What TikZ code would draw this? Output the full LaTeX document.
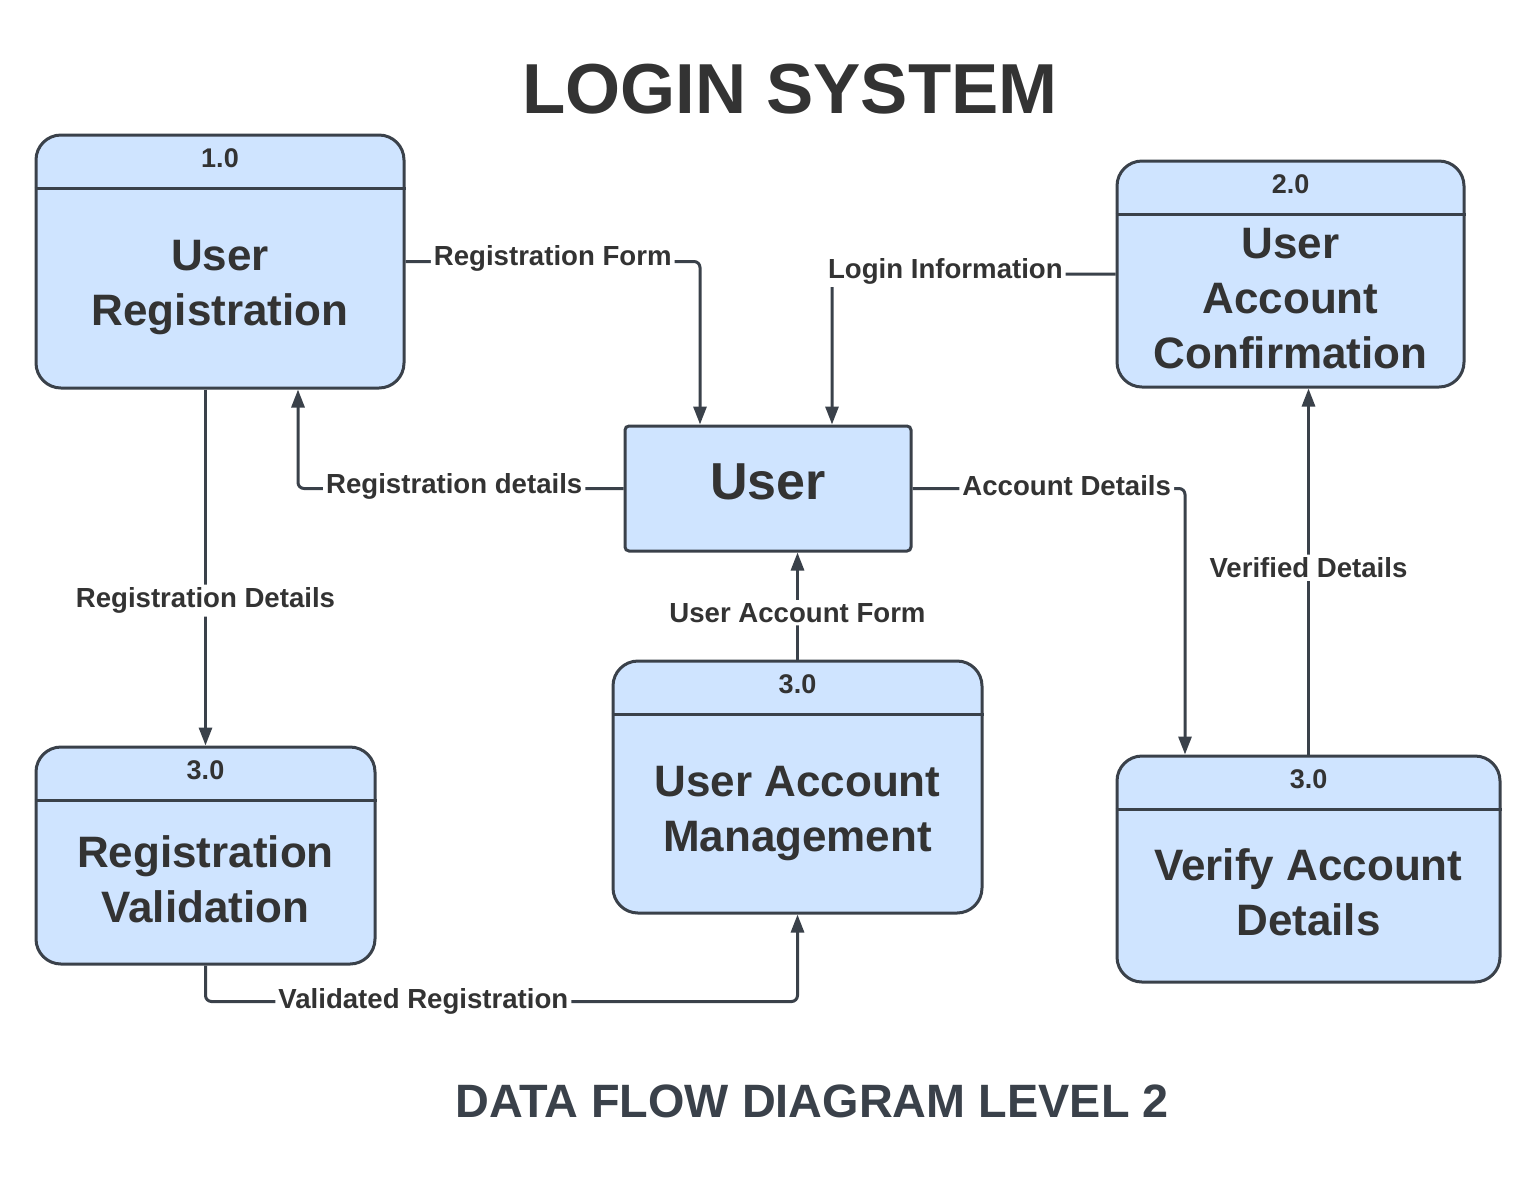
\documentclass[tikz,border=0pt]{standalone}
\usepackage{fontspec}
\setmainfont{Liberation Sans}
\usetikzlibrary{arrows.meta}
\definecolor{boxfill}{HTML}{CFE4FF}
\definecolor{edge}{HTML}{3A414A}
\definecolor{ink}{HTML}{333333}
\begin{document}
\begin{tikzpicture}[x=0.5pt,y=-0.5pt,
  proc/.style={draw=edge, line width=1.5pt, fill=boxfill, rounded corners=12.5pt, inner sep=0pt},
  hdr/.style={font=\bfseries\fontsize{13.5}{16}\selectfont, text=ink, inner sep=0pt},
  maintxt/.style={font=\bfseries\fontsize{22}{27.5}\selectfont, text=ink, align=center, inner sep=0pt},
  flow/.style={draw=edge, line width=1.5pt, -{Triangle[width=6.5pt,length=9pt]}, rounded corners=3pt},
  lbl/.style={fill=white, font=\bfseries\fontsize{13.8}{16}\selectfont, text=ink, inner sep=1.5pt},
  hline/.style={draw=edge, line width=1.5pt}]
\useasboundingbox (0,0) rectangle (1536,1180);

% titles
\node[font=\bfseries\fontsize{35.4}{40}\selectfont, text=ink] (title) at (790,89) {LOGIN SYSTEM};
\node[font=\bfseries\fontsize{23.4}{28}\selectfont, text=edge] (subtitle) at (812,1101) {DATA FLOW DIAGRAM LEVEL 2};

% process boxes
\node[proc, minimum width=184pt, minimum height=126.5pt] (b1) at (220,261.5) {};
\node[proc, minimum width=173.5pt, minimum height=113pt] (b2) at (1290.5,274) {};
\node[proc, rounded corners=2pt, minimum width=143pt, minimum height=62.5pt] (user) at (768,488.5) {};
\node[proc, minimum width=169.5pt, minimum height=108.5pt] (rv) at (205.5,855.5) {};
\node[proc, minimum width=184.5pt, minimum height=126pt] (uam) at (797.5,787) {};
\node[proc, minimum width=191.5pt, minimum height=113pt] (vd) at (1308.5,869) {};

% header lines
\foreach \b in {b1,b2,rv,uam,vd}{
  \draw[hline] ([yshift=-27.5pt]\b.north west) -- ([yshift=-27.5pt]\b.north east);
}

% header numbers
\node[hdr] (b1h) at ([yshift=-12.5pt]b1.north) {1.0};
\node[hdr] (b2h) at ([yshift=-12.5pt]b2.north) {2.0};
\node[hdr] (rvh) at ([yshift=-12.5pt]rv.north) {3.0};
\node[hdr] (uamh) at ([yshift=-12.5pt]uam.north) {3.0};
\node[hdr] (vdh) at ([yshift=-12.5pt]vd.north) {3.0};

% main texts
\node[maintxt] (b1t) at (220,288) {User\\Registration};
\node[maintxt] (b2t) at (1290.5,299) {User\\Account\\Confirmation};
\node[maintxt] (rvt) at (205.5,879) {Registration\\Validation};
\node[maintxt] (uamt) at (797.5,814) {User Account\\Management};
\node[maintxt] (vdt) at (1308.5,892) {Verify Account\\Details};
\node[font=\bfseries\fontsize{26}{30}\selectfont, text=ink, inner sep=0pt] (usert) at (768,482) {User};

% flows
\draw[flow] (b1.east) -| node[lbl, pos=0.25, yshift=1.5pt] {Registration Form} ([xshift=-34pt]user.north);
\draw[flow] (b2.west) -| node[lbl, pos=0.3, yshift=1.5pt] {Login Information} ([xshift=32pt]user.north);
\draw[flow] (user.west) -| node[lbl, pos=0.26, yshift=1pt] {Registration details} ([xshift=39pt]b1.south);
\draw[flow] (user.east) -| node[lbl, pos=0.283, yshift=1.5pt] {Account Details} ([xshift=-61.75pt]vd.north);
\draw[flow] (b1.south -| rv.north) -- node[lbl, pos=0.593] {Registration Details} (rv.north);
\draw[flow] (uam.north) -- node[lbl, pos=0.436] {User Account Form} (uam.north |- user.south);
\draw[flow] (rv.south) -- ([yshift=-18pt]rv.south) -| node[lbl, pos=0.184] {Validated Registration} (uam.south);
\draw[flow] (vd.north) -- node[lbl, pos=0.51] {Verified Details} (vd.north |- b2.south);
\end{tikzpicture}
\end{document}
